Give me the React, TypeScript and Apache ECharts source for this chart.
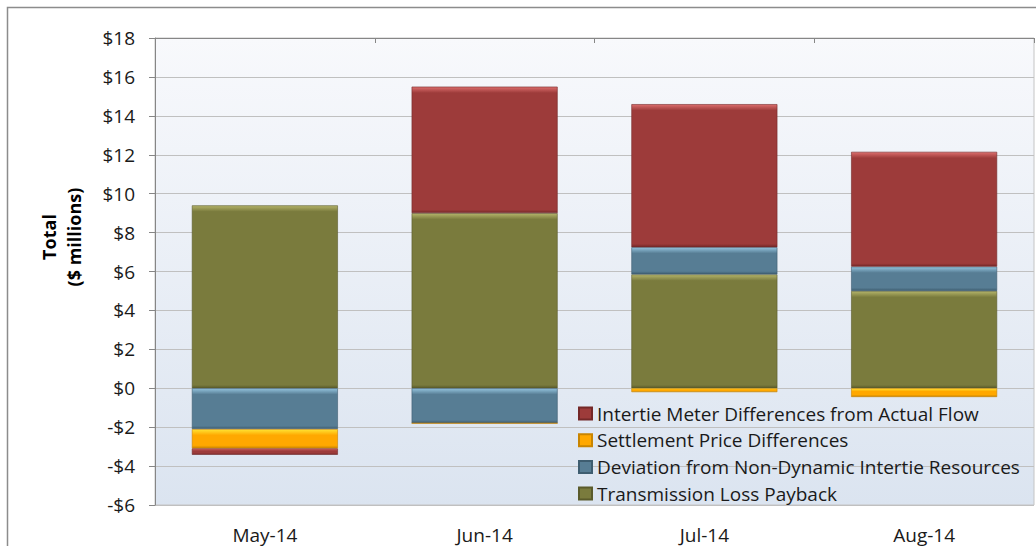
import React, { useEffect, useRef } from "react";
import * as echarts from "echarts";

const CATEGORIES = ["May-14", "Jun-14", "Jul-14", "Aug-14"];
const TRANSMISSION = [9.4, 9.0, 5.85, 5.0];
const DEVIATION = [-2.1, -1.8, 1.4, 1.25];
const SETTLEMENT = [-1.0, 0, -0.2, -0.45];
const INTERTIE = [-0.32, 6.5, 7.35, 5.9];
const Y_MIN = -6;
const Y_MAX = 18;
const Y_STEP = 2;

const NAMES = {
  tr: "Transmission Loss Payback",
  dev: "Deviation from Non-Dynamic Intertie Resources",
  set: "Settlement Price Differences",
  int: "Intertie Meter Differences from Actual Flow",
};

const FONT = "Open Sans";
const GRID_TOP = 38;
const GRID_BOTTOM = 41;
const H = 546;
const PX_PER_UNIT = (H - GRID_TOP - GRID_BOTTOM) / (Y_MAX - Y_MIN);

type Pal = { main: string; light: string; dark: string };
const PAL_TR: Pal = { main: "#7a7b3d", light: "#b4b46a", dark: "#5a5b2b" };
const PAL_DEV: Pal = { main: "#577d94", light: "#93c3dd", dark: "#3e5d70" };
const PAL_SET: Pal = { main: "#ffa800", light: "#ffe433", dark: "#c98500" };
const PAL_INT: Pal = { main: "#9d3b3a", light: "#dc6e6d", dark: "#742828" };

function bevel(p: Pal, v: number) {
  const h = Math.abs(v) * PX_PER_UNIT;
  if (h <= 0.5) return p.main;
  const t = Math.min(0.35, 6 / h);
  const b = Math.min(0.25, 3 / h);
  return new echarts.graphic.LinearGradient(0, 0, 0, 1, [
    { offset: 0, color: p.light },
    { offset: t, color: p.main },
    { offset: 1 - b, color: p.main },
    { offset: 1, color: p.dark },
  ]);
}

function makeSeries(name: string, values: number[], p: Pal) {
  return {
    name,
    type: "bar",
    stack: "total",
    barWidth: 146,
    xAxisIndex: 0,
    itemStyle: { color: p.main, borderColor: p.dark, borderWidth: 0.6 },
    emphasis: { disabled: true },
    data: values.map((v) => ({
      value: v,
      itemStyle: { color: bevel(p, v) },
    })),
  };
}

export default function App() {
  const ref = useRef<HTMLDivElement>(null);
  useEffect(() => {
    if (!ref.current) return;
    const chart = echarts.init(ref.current, undefined, { renderer: "svg" });
    const fmt = (v: number) => (v < 0 ? "-$" + Math.abs(v) : "$" + v);
    chart.setOption({
      animation: false,
      backgroundColor: "#ffffff",
      textStyle: { fontFamily: FONT },
      grid: {
        left: 155,
        right: 2,
        top: GRID_TOP,
        bottom: GRID_BOTTOM,
        show: true,
        borderColor: "#c4c4c4",
        borderWidth: 1,
        backgroundColor: new echarts.graphic.LinearGradient(0, 0, 0, 1, [
          { offset: 0, color: "#f8f9fc" },
          { offset: 1, color: "#dbe4f0" },
        ]),
      },
      legend: {
        orient: "vertical",
        left: 578,
        top: 404,
        padding: 0,
        itemWidth: 13,
        itemHeight: 12,
        itemGap: 7.7,
        icon: "rect",
        selectedMode: false,
        textStyle: { fontFamily: FONT, fontSize: 19, lineHeight: 19, color: "#1a1a1a" },
        data: [NAMES.int, NAMES.set, NAMES.dev, NAMES.tr],
      },
      xAxis: [
        {
          type: "category",
          data: CATEGORIES,
          position: "bottom",
          axisLine: { show: false },
          axisTick: { show: false },
          axisLabel: { margin: 20, fontSize: 19, color: "#1a1a1a", fontFamily: FONT },
        },
        {
          type: "category",
          data: CATEGORIES,
          position: "top",
          axisLine: { show: true, onZero: true, lineStyle: { color: "#868686", width: 1 } },
          axisTick: { show: true, inside: true, length: 5, lineStyle: { color: "#868686" } },
          axisLabel: { show: false },
        },
      ],
      yAxis: {
        type: "value",
        min: Y_MIN,
        max: Y_MAX,
        interval: Y_STEP,
        axisLine: { show: true, lineStyle: { color: "#868686", width: 1 } },
        axisTick: { show: true, length: 6, lineStyle: { color: "#868686" } },
        axisLabel: { margin: 20, fontSize: 19, color: "#1a1a1a", fontFamily: FONT, formatter: fmt },
        splitLine: { show: true, lineStyle: { color: "#c0c0c0", width: 1 } },
      },
      series: [
        makeSeries(NAMES.tr, TRANSMISSION, PAL_TR),
        makeSeries(NAMES.dev, DEVIATION, PAL_DEV),
        makeSeries(NAMES.set, SETTLEMENT, PAL_SET),
        makeSeries(NAMES.int, INTERTIE, PAL_INT),
      ],
      graphic: [
        {
          type: "rect",
          silent: true,
          shape: { x: 7.5, y: 7.5, width: 1100, height: 600 },
          style: { fill: "none", stroke: "#8c8c8c", lineWidth: 1.5 },
        },
        {
          type: "text",
          silent: true,
          x: 61.5,
          y: 237,
          rotation: Math.PI / 2,
          style: {
            text: "Total\n($ millions)",
            fontFamily: FONT,
            fontWeight: "bold",
            fontSize: 18,
            lineHeight: 25,
            fill: "#000",
            align: "center",
            verticalAlign: "middle",
          },
        },
      ],
    });
    return () => chart.dispose();
  }, []);
  return (
    <div
      ref={ref}
      style={{ position: "absolute", left: 0, top: 0, width: 1036, height: 546 }}
    />
  );
}
